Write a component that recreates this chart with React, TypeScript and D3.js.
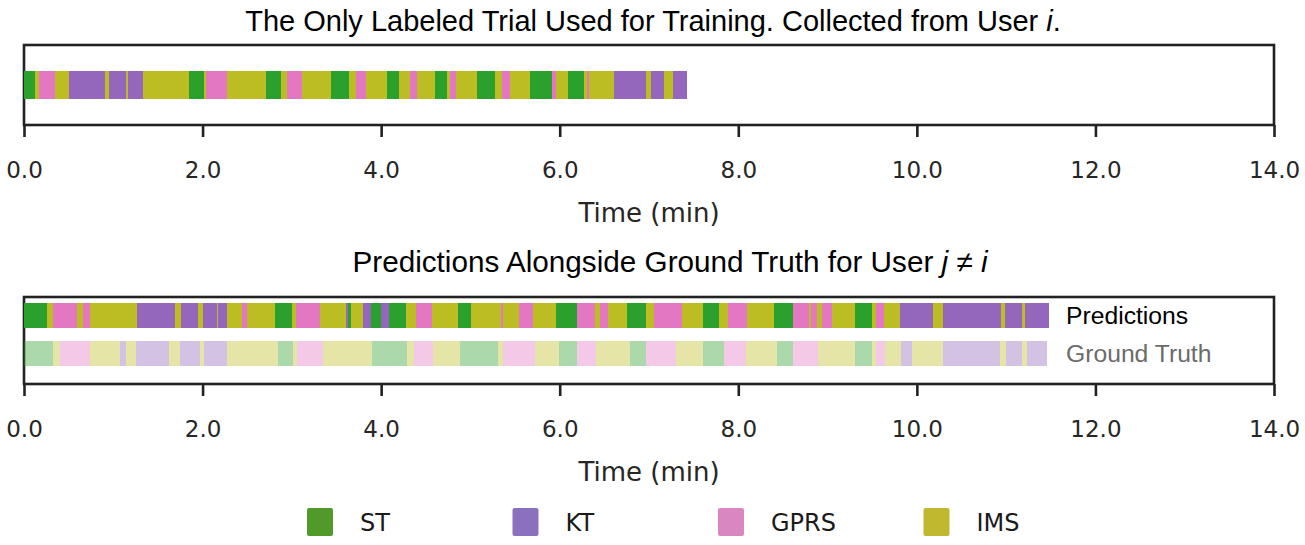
import React, { useRef, useEffect } from 'react';
import * as d3 from 'd3';

type Segment = [string, number];

const classes = ['ST', 'KT', 'GPRS', 'IMS'];
const classColors = ['#2ca02c', '#9467bd', '#e377c2', '#bcbd22'];
const legendColors = ['#52992c', '#8b70bd', '#d887c1', '#c0b82f'];
const xTicks = [0, 2, 4, 6, 8, 10, 12, 14];

// each segment: [activity, end time in minutes]; it starts where the previous one ended
const trialSegments: Segment[] = [
  ['ST', 0.12], ['IMS', 0.17], ['GPRS', 0.35], ['IMS', 0.5], ['KT', 0.91], ['IMS', 0.95],
  ['KT', 1.14], ['IMS', 1.17], ['KT', 1.33], ['IMS', 1.85], ['ST', 2.02], ['IMS', 2.04],
  ['GPRS', 2.27], ['IMS', 2.71], ['ST', 2.88], ['IMS', 2.95], ['GPRS', 3.11], ['IMS', 3.44],
  ['ST', 3.64], ['IMS', 3.72], ['GPRS', 3.83], ['IMS', 4.07], ['ST', 4.2], ['IMS', 4.32],
  ['GPRS', 4.4], ['IMS', 4.6], ['ST', 4.74], ['IMS', 4.77], ['GPRS', 4.84], ['IMS', 5.07],
  ['ST', 5.28], ['IMS', 5.35], ['GPRS', 5.44], ['IMS', 5.67], ['ST', 5.91], ['GPRS', 5.96],
  ['IMS', 6.09], ['ST', 6.27], ['IMS', 6.31], ['GPRS', 6.33], ['IMS', 6.61], ['KT', 6.97],
  ['IMS', 7.02], ['KT', 7.17], ['IMS', 7.27], ['KT', 7.43],
];

const predSegments: Segment[] = [
  ['ST', 0.26], ['IMS', 0.33], ['GPRS', 0.59], ['IMS', 0.66], ['GPRS', 0.74], ['IMS', 1.27],
  ['KT', 1.69], ['IMS', 1.76], ['KT', 1.95], ['IMS', 2.0], ['KT', 2.16], ['IMS', 2.17],
  ['KT', 2.27], ['IMS', 2.44], ['GPRS', 2.5], ['IMS', 2.81], ['ST', 3.0], ['IMS', 3.05],
  ['GPRS', 3.32], ['IMS', 3.61], ['KT', 3.63], ['ST', 3.66], ['IMS', 3.8], ['KT', 3.89],
  ['ST', 4.0], ['KT', 4.09], ['ST', 4.28], ['IMS', 4.39], ['GPRS', 4.57], ['IMS', 4.86],
  ['ST', 5.01], ['IMS', 5.34], ['GPRS', 5.37], ['IMS', 5.54], ['GPRS', 5.7], ['IMS', 5.96],
  ['ST', 6.19], ['GPRS', 6.4], ['IMS', 6.45], ['GPRS', 6.54], ['IMS', 6.75], ['ST', 6.97],
  ['IMS', 7.06], ['GPRS', 7.37], ['IMS', 7.61], ['ST', 7.78], ['IMS', 7.89], ['GPRS', 8.1],
  ['IMS', 8.4], ['ST', 8.61], ['GPRS', 8.79], ['IMS', 8.81], ['GPRS', 8.88], ['IMS', 8.94],
  ['GPRS', 9.05], ['IMS', 9.31], ['ST', 9.5], ['IMS', 9.54], ['GPRS', 9.63], ['IMS', 9.81],
  ['KT', 10.18], ['IMS', 10.29], ['KT', 10.94], ['IMS', 10.99], ['KT', 11.18], ['IMS', 11.21],
  ['KT', 11.48],
];

const truthSegments: Segment[] = [
  ['ST', 0.33], ['IMS', 0.4], ['GPRS', 0.74], ['IMS', 1.08], ['KT', 1.14], ['IMS', 1.25],
  ['KT', 1.62], ['IMS', 1.75], ['KT', 1.97], ['IMS', 2.02], ['KT', 2.27], ['IMS', 2.85],
  ['ST', 3.01], ['IMS', 3.06], ['GPRS', 3.35], ['IMS', 3.9], ['ST', 4.29], ['IMS', 4.37],
  ['GPRS', 4.58], ['IMS', 4.88], ['ST', 5.31], ['IMS', 5.37], ['GPRS', 5.72], ['IMS', 5.99],
  ['ST', 6.19], ['GPRS', 6.41], ['IMS', 6.79], ['ST', 6.97], ['GPRS', 7.3], ['IMS', 7.61],
  ['ST', 7.84], ['GPRS', 8.09], ['IMS', 8.43], ['ST', 8.61], ['GPRS', 8.89], ['IMS', 9.31],
  ['ST', 9.5], ['IMS', 9.54], ['GPRS', 9.64], ['IMS', 9.82], ['KT', 9.95], ['IMS', 10.29],
  ['KT', 10.93], ['IMS', 11.0], ['KT', 11.18], ['IMS', 11.23], ['KT', 11.46],
];

const rowNames = ['Predictions', 'Ground Truth'];

const WIDTH = 1305;
const HEIGHT = 545;
const LEFT = 24;
const RIGHT = 1274;

const tickFont = '"DejaVu Sans", sans-serif';
const titleFont = '"Liberation Sans", Arial, sans-serif';

const toSpans = (segs: Segment[]) =>
  segs.map(([label, end], i) => ({ label, start: i === 0 ? 0 : segs[i - 1][1], end }));

const App: React.FC = () => {
  const svgRef = useRef<SVGSVGElement>(null);

  useEffect(() => {
    if (!svgRef.current) return;
    const svg = d3.select(svgRef.current);
    svg.selectAll('*').remove();

    const x = d3.scaleLinear().domain([0, 14]).range([LEFT, RIGHT]);
    const color = d3.scaleOrdinal<string, string>().domain(classes).range(classColors);

    // frame + bottom axis shared by both panels
    const drawPanel = (top: number, bottom: number) => {
      const g = svg.append('g');
      g.append('rect')
        .attr('x', LEFT)
        .attr('y', top)
        .attr('width', RIGHT - LEFT)
        .attr('height', bottom - top)
        .attr('fill', 'none')
        .attr('stroke', '#222')
        .attr('stroke-width', 2.6);

      const axis = g
        .append('g')
        .attr('transform', `translate(0,${bottom})`)
        .call(
          d3.axisBottom(x)
            .tickValues(xTicks)
            .tickFormat(d3.format('.1f') as any)
            .tickSize(12)
            .tickSizeOuter(0)
            .tickPadding(25)
        );
      axis.select('.domain').remove();
      axis.selectAll('.tick line').attr('stroke', '#222').attr('stroke-width', 2.6);
      axis
        .selectAll('.tick text')
        .attr('fill', '#262626')
        .attr('font-family', tickFont)
        .attr('font-size', 23);

      g.append('text')
        .attr('x', (LEFT + RIGHT) / 2)
        .attr('y', bottom + 97)
        .attr('text-anchor', 'middle')
        .attr('font-family', tickFont)
        .attr('font-size', 26)
        .attr('fill', '#262626')
        .text('Time (min)');
      return g;
    };

    const drawRow = (
      g: d3.Selection<SVGGElement, unknown, null, undefined>,
      segs: Segment[],
      y: number,
      h: number,
      opacity: number
    ) => {
      g.append('g')
        .selectAll('rect')
        .data(toSpans(segs))
        .enter()
        .append('rect')
        .attr('x', (d) => x(d.start))
        .attr('y', y)
        .attr('width', (d) => x(d.end) - x(d.start))
        .attr('height', h)
        .attr('fill', (d) => color(d.label))
        .attr('fill-opacity', opacity)
        .attr('shape-rendering', 'crispEdges');
    };

    // top panel: the single labelled training trial
    const title1 = svg
      .append('text')
      .attr('x', 653)
      .attr('y', 31)
      .attr('text-anchor', 'middle')
      .attr('font-family', titleFont)
      .attr('font-size', 29)
      .attr('fill', '#000');
    title1.append('tspan').text('The Only Labeled Trial Used for Training. Collected from User ');
    title1.append('tspan').attr('font-style', 'italic').text('i');
    title1.append('tspan').text('.');

    const topPanel = drawPanel(45, 125);
    const yTop = d3.scaleBand().domain(['trial']).range([45, 125]).paddingInner(0).paddingOuter(0.93);
    drawRow(topPanel, trialSegments, yTop('trial')!, yTop.bandwidth(), 1);

    // bottom panel: predictions over ground truth
    const title2 = svg
      .append('text')
      .attr('x', 670)
      .attr('y', 272)
      .attr('text-anchor', 'middle')
      .attr('font-family', titleFont)
      .attr('font-size', 29.7)
      .attr('fill', '#000');
    title2.append('tspan').text('Predictions Alongside Ground Truth for User ');
    title2.append('tspan').attr('font-style', 'italic').text('j');
    title2.append('tspan').text(' \u2260 ');
    title2.append('tspan').attr('font-style', 'italic').text('i');

    const botPanel = drawPanel(297, 384);
    const yRows = d3.scaleBand().domain(rowNames).range([303, 366]).paddingInner(0.342).paddingOuter(0);
    drawRow(botPanel, predSegments, yRows('Predictions')!, yRows.bandwidth(), 1);
    drawRow(botPanel, truthSegments, yRows('Ground Truth')!, yRows.bandwidth(), 0.4);

    botPanel
      .selectAll('text.row-label')
      .data(rowNames)
      .enter()
      .append('text')
      .attr('class', 'row-label')
      .attr('x', 1066)
      .attr('y', (d) => yRows(d)! + yRows.bandwidth() / 2)
      .attr('dy', '0.36em')
      .attr('font-family', titleFont)
      .attr('font-size', 24.7)
      .attr('fill', (d) => (d === 'Predictions' ? '#000' : '#6b6b6b'))
      .text((d) => d);

    // legend
    const legend = svg
      .selectAll('.legend')
      .data(classes)
      .enter()
      .append('g')
      .attr('class', 'legend')
      .attr('transform', (d, i) => `translate(${307 + i * 205.5}, 508)`);

    legend
      .append('rect')
      .attr('width', 26)
      .attr('height', 28)
      .attr('rx', 2)
      .attr('fill', (d, i) => legendColors[i]);

    legend
      .append('text')
      .attr('x', 53)
      .attr('y', 14)
      .attr('dy', '0.36em')
      .attr('font-family', tickFont)
      .attr('font-size', 24)
      .attr('fill', '#1a1a1a')
      .text((d) => d);
  }, []);

  return (
    <div className="activity-timeline">
      <svg
        ref={svgRef}
        width={WIDTH}
        height={HEIGHT}
        style={{ position: 'absolute', left: 0, top: 0, background: '#fff' }}
      />
    </div>
  );
};

export default App;
